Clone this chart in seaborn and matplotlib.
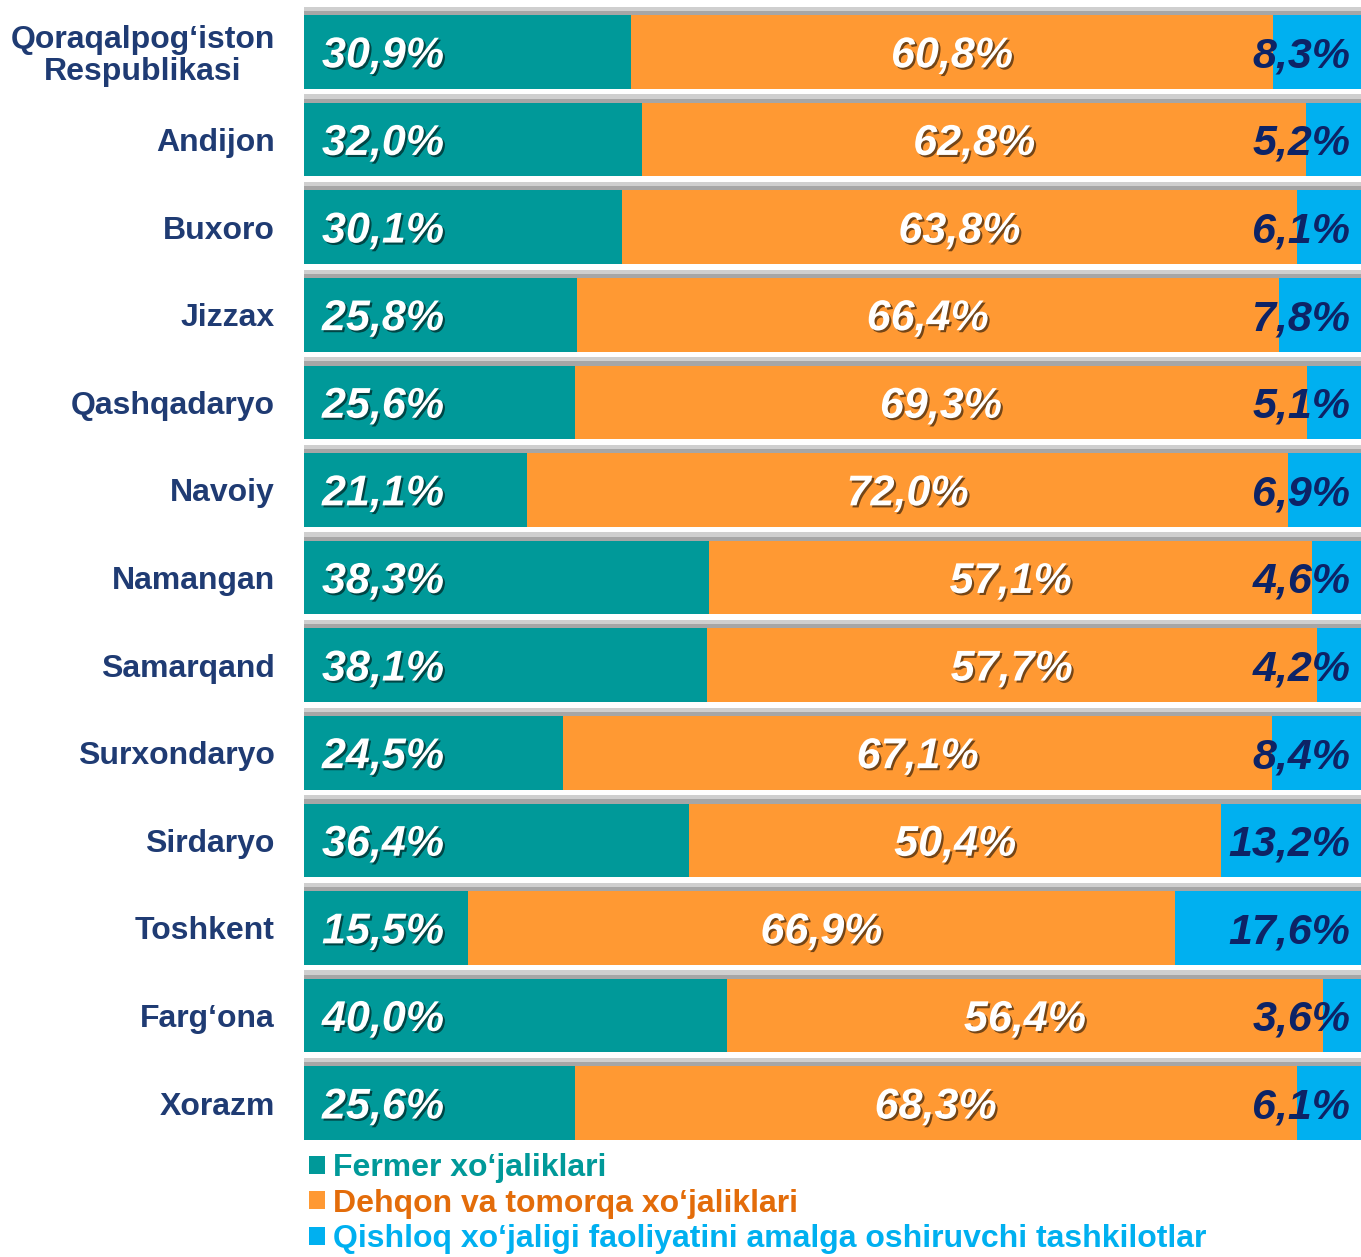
import matplotlib
matplotlib.use("Agg")
import matplotlib.pyplot as plt
import matplotlib.patheffects as pe
from matplotlib.patches import Patch
import pandas as pd
import seaborn as sns

regions = ["Qoraqalpog‘iston\nRespublikasi", "Andijon", "Buxoro", "Jizzax", "Qashqadaryo",
           "Navoiy", "Namangan", "Samarqand", "Surxondaryo", "Sirdaryo", "Toshkent",
           "Farg‘ona", "Xorazm"]
fermer = [30.9, 32.0, 30.1, 25.8, 25.6, 21.1, 38.3, 38.1, 24.5, 36.4, 15.5, 40.0, 25.6]
dehqon = [60.8, 62.8, 63.8, 66.4, 69.3, 72.0, 57.1, 57.7, 67.1, 50.4, 66.9, 56.4, 68.3]
tashkilot = [8.3, 5.2, 6.1, 7.8, 5.1, 6.9, 4.6, 4.2, 8.4, 13.2, 17.6, 3.6, 6.1]
series_names = ["Fermer xo‘jaliklari", "Dehqon va tomorqa xo‘jaliklari",
                "Qishloq xo‘jaligi faoliyatini amalga oshiruvchi tashkilotlar"]

TEAL = "#009999"
ORANGE = "#FF9933"
BLUE = "#00B0F0"
NAVY = "#1F3B73"
DARK = "#0D2366"

df = pd.DataFrame({"region": regions, "fermer": fermer, "dehqon": dehqon, "tashkilot": tashkilot})
df["cum2"] = df["fermer"] + df["dehqon"]
df["total"] = df["cum2"] + df["tashkilot"]

sns.set_style("white")
plt.rcParams["font.family"] = ["Liberation Sans", "DejaVu Sans"]

fig = plt.figure(figsize=(13.61, 12.57), dpi=100)
ax = fig.add_axes([0.2234, 0.0931, 0.7766, 0.9039])

bw = 0.84
sns.barplot(data=df, y="region", x="total", orient="h", color=BLUE, width=bw,
            saturation=1, linewidth=0, ax=ax)
# soft grey shadow above each bar
shadow = [pe.SimplePatchShadow(offset=(0, 6), shadow_rgbFace="#b0b0b0", alpha=0.6),
          pe.SimplePatchShadow(offset=(0, 3), shadow_rgbFace="#8c8c8c", alpha=0.6),
          pe.Normal()]
for p in ax.patches:
    p.set_path_effects(shadow)
sns.barplot(data=df, y="region", x="cum2", orient="h", color=ORANGE, width=bw,
            saturation=1, linewidth=0, ax=ax)
sns.barplot(data=df, y="region", x="fermer", orient="h", color=TEAL, width=bw,
            saturation=1, linewidth=0, ax=ax)

ax.set_xlim(0, 100)
ax.set_ylim(len(regions) - 1 + bw / 2, -0.55)
ax.set_xlabel("")
ax.set_ylabel("")
ax.set_xticks([])
for s in ax.spines.values():
    s.set_visible(False)
ax.tick_params(axis="y", length=0, pad=21)
for lab in ax.get_yticklabels():
    lab.set_fontsize(23)
    lab.set_fontweight("bold")
    lab.set_color(NAVY)
    lab.set_multialignment("center")
    lab.set_linespacing(1.05)


def fmt(v):
    return f"{v:.1f}".replace(".", ",") + "%"


txt_shadow = [pe.SimplePatchShadow(offset=(1.5, -1.5), shadow_rgbFace="black", alpha=0.55), pe.Normal()]
lab_kw = dict(fontsize=31, fontweight="bold", fontstyle="italic", va="center")
for i in range(len(regions)):
    y = i + 0.05
    ax.text(1.7, y, fmt(fermer[i]), color="white", ha="left", path_effects=txt_shadow, **lab_kw)
    ax.text(fermer[i] + dehqon[i] / 2, y, fmt(dehqon[i]), color="white", ha="center",
            path_effects=txt_shadow, **lab_kw)
    ax.text(99.0, y, fmt(tashkilot[i]), color=DARK, ha="right", **lab_kw)

handles = [Patch(facecolor=c, edgecolor="none") for c in [TEAL, ORANGE, BLUE]]
leg = fig.legend(handles, series_names, loc="upper left", bbox_to_anchor=(0.227, 0.0825),
                 frameon=False, prop={"size": 23, "weight": "bold"},
                 handlelength=0.5, handleheight=0.5, handletextpad=0.25,
                 labelspacing=0.17, borderpad=0, borderaxespad=0)
for t, c in zip(leg.get_texts(), [TEAL, "#E36C0A", BLUE]):
    t.set_color(c)

fig.savefig("out.png", dpi=100)
